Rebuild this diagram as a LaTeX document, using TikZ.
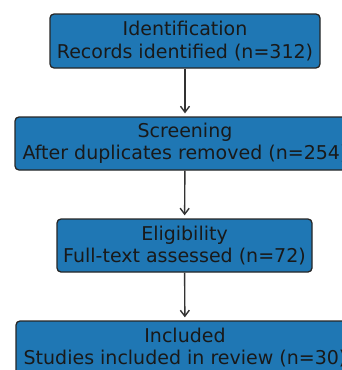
\documentclass[tikz,border=0pt]{standalone}
\usepackage{fontspec}
\setmainfont{DejaVu Sans}
\usetikzlibrary{arrows.meta}
\definecolor{stageblue}{HTML}{1F77B4}

\begin{document}
\begin{tikzpicture}[x=1pt, y=-1pt, >={Straight Barb[length=6pt,width=9pt]},
    stage/.style={draw=black!85, line width=1.3pt, fill=stageblue, rounded corners=4pt,
        align=center, inner sep=0pt, text=black!90, font=\fontsize{19}{22.5}\selectfont},
    flow/.style={->, line width=1.4pt, draw=black!80, shorten >=3pt}]
    % Frame
    \useasboundingbox (0,0) rectangle (342,370);

    % Stages
    \node[stage, minimum width=270pt, minimum height=54pt] (ident) at (185,41)
        {Identification\\Records identified (n=312)};
    \node[stage, minimum width=340pt, minimum height=53pt] (screen) at (185,143.5)
        {Screening\\After duplicates removed (n=254)};
    \node[stage, minimum width=255pt, minimum height=53pt] (elig) at (184.5,245.5)
        {Eligibility\\Full-text assessed (n=72)};
    \node[stage, minimum width=338pt, minimum height=53pt] (incl) at (185,347.5)
        {Included\\Studies included in review (n=30)};

    % Arrows
    \draw[flow] (ident) -- (screen);
    \draw[flow] (screen) -- (elig);
    \draw[flow] (elig) -- (incl);
\end{tikzpicture}
\end{document}
